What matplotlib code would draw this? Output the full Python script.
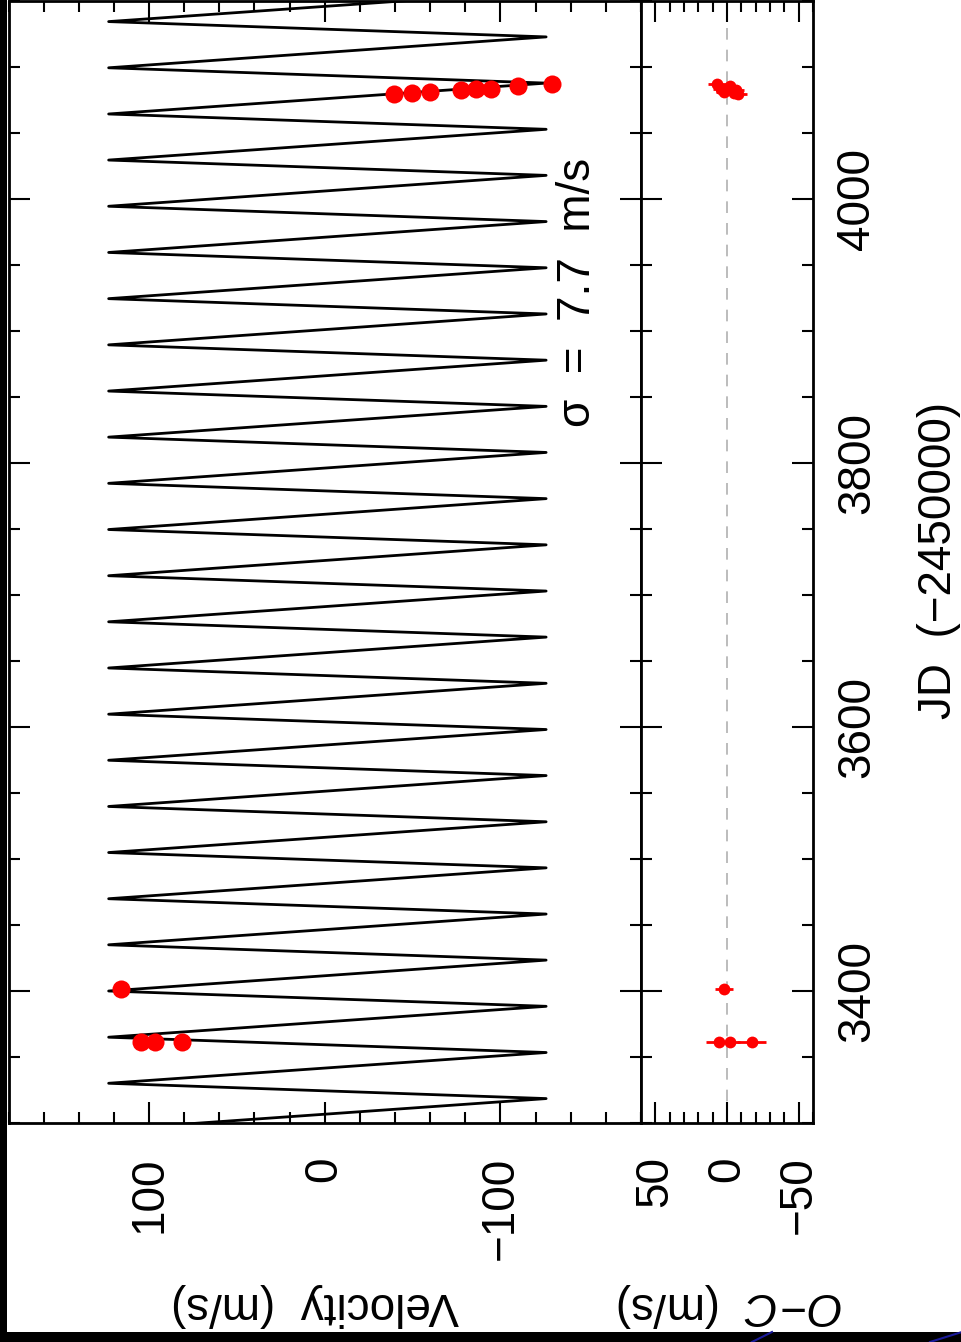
import matplotlib.pyplot as plt
from matplotlib.ticker import MultipleLocator
from matplotlib.patches import Rectangle
from matplotlib.lines import Line2D

# =====================
# fonts
# =====================

plt.rcParams['font.family'] = ['Liberation Sans', 'DejaVu Sans']
plt.rcParams['mathtext.fontset'] = 'custom'
plt.rcParams['mathtext.rm'] = 'Liberation Sans'
plt.rcParams['mathtext.it'] = 'Liberation Sans:italic'

# =====================
# data (JD - 2450000, m/s)
# =====================

# orbit model as drawn: extremes of the plotted curve
peak_jd = [3295.1, 3330.1, 3365.0, 3400.0, 3435.0, 3469.9, 3504.9, 3539.8,
           3574.8, 3609.7, 3644.7, 3679.7, 3714.6, 3749.6, 3784.6, 3819.6,
           3854.5, 3889.5, 3924.5, 3959.5, 3994.5, 4029.5, 4064.4, 4099.4,
           4134.4, 4169.3]
trough_jd = [3283.5, 3318.5, 3353.4, 3388.4, 3423.4, 3458.3, 3493.3, 3528.2,
             3563.2, 3598.1, 3633.1, 3668.1, 3703.0, 3738.0, 3773.0, 3808.0,
             3842.9, 3877.9, 3912.9, 3947.9, 3982.9, 4017.9, 4052.8, 4087.8,
             4122.8, 4157.7]
peak_v = 123.0
trough_v = -126.0

# measurements
obs_jd = [3361.2, 3361.2, 3361.2, 3401.5,
          4079.4, 4080.2, 4081.2, 4082.5, 4083.2, 4083.7, 4085.7, 4087.0]
obs_rv = [104.4, 96.7, 81.5, 116.2,
          -39.4, -49.9, -60.0, -77.5, -86.1, -94.7, -109.9, -129.5]
obs_oc = [5.4, -2.1, -17.2, 1.9,
          -8.0, -5.0, 2.0, -6.0, -3.0, 4.0, -2.0, 7.0]
obs_err = [9.0, 7.0, 10.0, 6.3,
           6.0, 6.0, 6.0, 6.0, 6.0, 6.0, 6.0, 6.0]

sigma_text = 'σ  =  7.7  m/s'

# =====================
# figure
# =====================

W, H = 962, 1342
fig = plt.figure(figsize=(W / 100, H / 100), dpi=100, facecolor='black')
fig.patches.append(Rectangle((7 / W, 10 / H), 1, 1, transform=fig.transFigure,
                             facecolor='white', edgecolor='none', zorder=-5))
# bits of the slide decoration at the bottom
fig.lines.append(Line2D([752 / W, 772 / W], [0, 10 / H], transform=fig.transFigure,
                        color='#1a1a9a', lw=1.5))
fig.lines.append(Line2D([930 / W, 962 / W], [0, 10 / H], transform=fig.transFigure,
                        color='#1a1a9a', lw=1.5))

bottom = 1 - 1123 / H
height = 1122 / H
ax1 = fig.add_axes([8.5 / W, bottom, (641 - 8.5) / W, height])
ax2 = fig.add_axes([641 / W, bottom, 172 / W, height])

# =====================
# velocity panel
# =====================

verts = sorted([(t, peak_v) for t in peak_jd] + [(t, trough_v) for t in trough_jd])
model_jd = [v[0] for v in verts]
model_v = [v[1] for v in verts]

ax1.plot(model_v, model_jd, color='black', lw=2.0)
ax1.plot(obs_rv, obs_jd, 'o', color='red', ms=13, mec='none', zorder=3)
ax1.set_xlim(180, -180)
ax1.set_ylim(3300, 4150)
ax1.text(-144, 3929, sigma_text, rotation=90, ha='center', va='center', fontsize=33)

# =====================
# O-C panel
# =====================

ax2.axvline(0, color='#b0b0b0', lw=1.2, ls=(0, (7, 6)), zorder=1)
ax2.errorbar(obs_oc, obs_jd, xerr=obs_err, fmt='o', color='red', ms=8.5,
             mec='none', elinewidth=2.0, capsize=0, zorder=3)
ax2.set_xlim(60, -60)
ax2.set_ylim(3300, 4150)

# =====================
# axes styling
# =====================

for ax in (ax1, ax2):
    ax.yaxis.set_major_locator(MultipleLocator(200))
    ax.yaxis.set_minor_locator(MultipleLocator(50))
    ax.tick_params(which='both', direction='in', top=True, right=True,
                   left=True, bottom=True, width=1.5, labelsize=33)
    ax.tick_params(which='major', length=15)
    ax.tick_params(which='minor', length=8)
    ax.tick_params(axis='x', labelrotation=90, pad=24)
    for s in ax.spines.values():
        s.set_linewidth(2)

ax1.xaxis.set_major_locator(MultipleLocator(100))
ax1.xaxis.set_minor_locator(MultipleLocator(20))
ax2.xaxis.set_major_locator(MultipleLocator(50))
ax2.xaxis.set_minor_locator(MultipleLocator(10))

ax1.tick_params(axis='y', labelleft=False, labelright=False)
ax2.tick_params(axis='y', labelleft=False, labelright=True, labelrotation=90, pad=16)
for lab in ax2.get_yticklabels():
    lab.set_va('center')

# axis titles
fig.text(315 / W, 1 - 1305 / H, 'Velocity  (m/s)', rotation=180,
         ha='center', va='center', fontsize=33)
fig.text(730 / W, 1 - 1305 / H, r'$O\!-\!C$  (m/s)', rotation=180,
         ha='center', va='center', fontsize=33)
fig.text(939 / W, 1 - 560 / H, 'JD  (−2450000)', rotation=90,
         ha='center', va='center', fontsize=33)

fig.savefig('out.png', dpi=100, facecolor=fig.get_facecolor())
